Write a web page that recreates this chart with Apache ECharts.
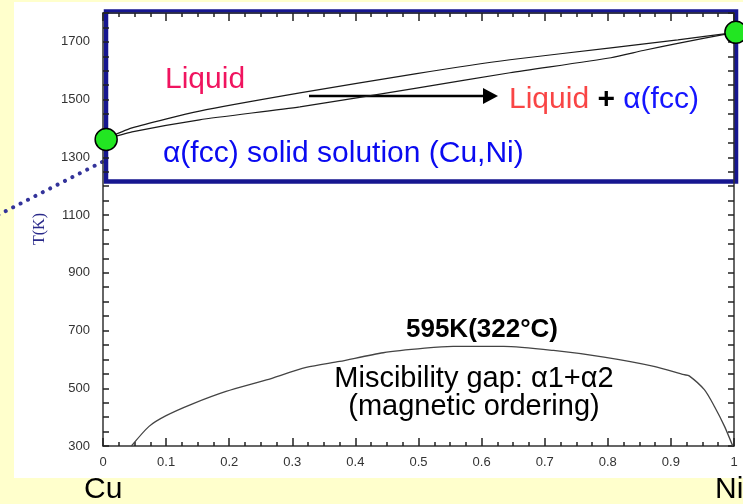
<!DOCTYPE html>
<html>
<head>
<meta charset="utf-8">
<script src="https://cdn.jsdelivr.net/npm/echarts@6/dist/echarts.min.js"></script>
<style>
html,body{margin:0;padding:0;background:#FFFFCC;}
#wrap{position:relative;width:743px;height:504px;background:#FFFFCC;overflow:hidden;}
#panel{position:absolute;left:14px;top:2px;width:729px;height:476px;background:#fff;}
#chart{position:absolute;left:0;top:0;width:743px;height:504px;}
</style>
</head>
<body>
<div id="wrap"><div id="panel"></div><div id="chart"></div></div>
<script>
// ---- data ----
const yLabelValues = [300, 500, 700, 900, 1100, 1300, 1500, 1700];
const liqX = [0, 0.046, 0.153, 0.312, 0.497, 0.645, 0.805, 0.911, 1];
const liqT = [1360, 1402, 1460, 1523, 1590, 1638, 1679, 1707, 1732];
const solX = [0, 0.046, 0.153, 0.312, 0.497, 0.645, 0.805, 0.856, 0.911, 1];
const solT = [1360, 1388, 1430, 1475, 1540, 1593, 1645, 1670, 1695, 1732];
const gapX = [0.045, 0.073, 0.100, 0.142, 0.195, 0.259, 0.322, 0.375, 0.444, 0.510, 0.555, 0.635, 0.714, 0.794, 0.873, 0.921, 0.929, 0.953, 0.969, 0.985, 0.998];
const gapT = [300, 368, 405, 446, 489, 529, 572, 593, 623, 639, 645, 645, 631, 608, 576, 547, 543, 495, 437, 368, 300];
const meltX = [0.005, 1.003];
const meltT = [1362, 1733];

const FONT = "'Liberation Sans', Arial, sans-serif";
const zip = (xs, ys) => xs.map((x, i) => [x, ys[i]]);
const axisColor = '#333';
const tickColor = '#222';

const chart = echarts.init(document.getElementById('chart'), null, {renderer: 'canvas'});

const tickCommon = () => ({
  axisLine: {show: true, onZero: false, lineStyle: {color: axisColor, width: 1.5}},
  splitLine: {show: false}
});
const xTick = () => ({show: true, inside: true, length: 8, lineStyle: {color: tickColor, width: 1.5}});
const xMinor = () => ({show: true, splitNumber: 4, length: 4, lineStyle: {color: tickColor, width: 1.5}});
const yTick = () => ({show: true, inside: true, length: 6, lineStyle: {color: tickColor, width: 1.5}});

const option = {
  backgroundColor: 'transparent',
  animation: false,
  grid: {left: 103, right: 9, top: 13, bottom: 58},
  xAxis: [
    Object.assign({
      type: 'value', min: 0, max: 1, interval: 0.1, position: 'bottom',
      axisTick: xTick(), minorTick: xMinor(),
      axisLabel: {color: '#333', fontSize: 13, fontFamily: FONT, margin: 9.5,
        formatter: v => String(+v.toFixed(1))}
    }, tickCommon()),
    Object.assign({
      type: 'value', min: 0, max: 1, interval: 0.1, position: 'top',
      axisTick: xTick(), minorTick: xMinor(),
      axisLabel: {show: false}
    }, tickCommon())
  ],
  yAxis: [
    Object.assign({
      type: 'value', min: 300, max: 1800, interval: 50, position: 'left',
      axisTick: yTick(),
      axisLabel: {color: '#333', fontSize: 13, fontFamily: FONT, margin: 13,
        formatter: v => (yLabelValues.indexOf(v) >= 0 ? String(v) : '')}
    }, tickCommon()),
    Object.assign({
      type: 'value', min: 300, max: 1800, interval: 50, position: 'right',
      axisTick: yTick(),
      axisLabel: {show: false}
    }, tickCommon())
  ],
  series: [
    {type: 'line', name: 'liquidus', data: zip(liqX, liqT), symbol: 'none', smooth: 0.2,
      lineStyle: {color: '#1a1a1a', width: 1.2}, z: 3},
    {type: 'line', name: 'solidus', data: zip(solX, solT), symbol: 'none', smooth: 0.2,
      lineStyle: {color: '#1a1a1a', width: 1.2}, z: 3},
    {type: 'line', name: 'gap', data: zip(gapX, gapT), symbol: 'none', smooth: 0.25,
      lineStyle: {color: '#444', width: 1.3}, z: 3},
    {type: 'scatter', name: 'melting', data: zip(meltX, meltT), symbol: 'circle', symbolSize: 22,
      clip: false, itemStyle: {color: '#22e622', borderColor: '#000', borderWidth: 1.5, opacity: 1}, z: 20}
  ],
  graphic: [
    {type: 'rect', silent: true, shape: {x: 106, y: 11.5, width: 630, height: 170}, style: {fill: 'none', stroke: '#161690', lineWidth: 4.5}},
    {type: 'line', silent: true, shape: {x1: 102, y1: 162, x2: -4, y2: 216},
      style: {stroke: '#33339a', lineWidth: 4, lineDash: [0.01, 8.3], lineCap: 'round'}},
    // arrow
    {type: 'line', silent: true, shape: {x1: 309, y1: 96, x2: 485, y2: 96}, style: {stroke: '#000', lineWidth: 2.5}},
    {type: 'polygon', silent: true, shape: {points: [[483, 88], [498, 96], [483, 104]]}, style: {fill: '#000'}},
    // texts
    {type: 'text', silent: true, x: 165, y: 80, style: {text: 'Liquid', font: '30px ' + FONT, fill: '#F0145F', align: 'left', verticalAlign: 'middle'}},
    {type: 'text', silent: true, x: 509, y: 100, style: {
      text: '{a|Liquid} {b|+} {c|α(fcc)}', font: '30px ' + FONT, align: 'left', verticalAlign: 'middle',
      rich: {a: {fill: '#F94545', font: '30px ' + FONT}, b: {fill: '#000', font: 'bold 30px ' + FONT}, c: {fill: '#1515FF', font: '30px ' + FONT}}}},
    {type: 'text', silent: true, x: 163, y: 154, style: {text: 'α(fcc) solid solution (Cu,Ni)', font: '30px ' + FONT, fill: '#0A0AF0', align: 'left', verticalAlign: 'middle'}},
    {type: 'text', silent: true, x: 482, y: 330, style: {text: '595K(322°C)', font: 'bold 26px ' + FONT, fill: '#000', align: 'center', verticalAlign: 'middle'}},
    {type: 'text', silent: true, x: 474, y: 379, style: {text: 'Miscibility gap: α1+α2', font: '29px ' + FONT, fill: '#000', align: 'center', verticalAlign: 'middle'}},
    {type: 'text', silent: true, x: 474, y: 407, style: {text: '(magnetic ordering)', font: '29px ' + FONT, fill: '#000', align: 'center', verticalAlign: 'middle'}},
    {type: 'text', silent: true, x: 84, y: 490, style: {text: 'Cu', font: '30px ' + FONT, fill: '#000', align: 'left', verticalAlign: 'middle'}},
    {type: 'text', silent: true, x: 715, y: 490, style: {text: 'Ni', font: '30px ' + FONT, fill: '#000', align: 'left', verticalAlign: 'middle'}},
    {type: 'text', silent: true, x: 40, y: 229, rotation: Math.PI / 2, style: {text: 'T(K)', font: "16px 'Liberation Serif', 'Times New Roman', serif", fill: '#2a2a8a', align: 'center', verticalAlign: 'middle'}}
  ]
};
chart.setOption(option);
</script>
</body>
</html>
